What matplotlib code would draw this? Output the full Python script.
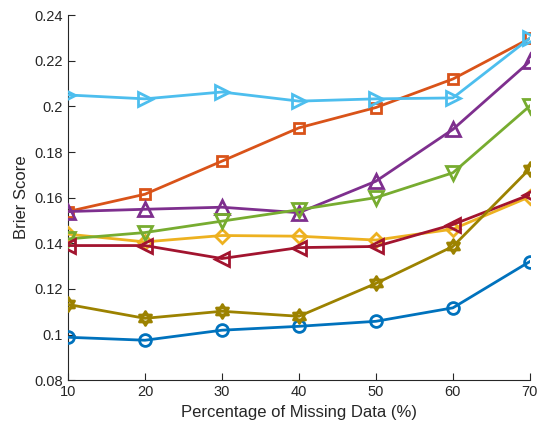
import numpy as np
import matplotlib
matplotlib.use("Agg")
import matplotlib.pyplot as plt
from matplotlib.path import Path

plt.rcParams['font.family'] = ['Liberation Sans', 'DejaVu Sans']

missing_pct = [10, 20, 30, 40, 50, 60, 70]
blue_circle = [0.0988, 0.0975, 0.1019, 0.1036, 0.1058, 0.1117, 0.1320]
orange_square = [0.1539, 0.1615, 0.1760, 0.1906, 0.1995, 0.2120, 0.2298]
yellow_diamond = [0.1440, 0.1406, 0.1434, 0.1431, 0.1414, 0.1462, 0.1604]
purple_up = [0.1539, 0.1549, 0.1558, 0.1534, 0.1672, 0.1899, 0.2197]
green_down = [0.1419, 0.1447, 0.1497, 0.1547, 0.1600, 0.1709, 0.2002]
cyan_right = [0.2050, 0.2033, 0.2063, 0.2023, 0.2033, 0.2037, 0.2299]
red_left = [0.1390, 0.1390, 0.1333, 0.1381, 0.1386, 0.1482, 0.1613]
olive_hex = [0.1132, 0.1071, 0.1102, 0.1080, 0.1224, 0.1386, 0.1727]

x_ticks = [10, 20, 30, 40, 50, 60, 70]
y_ticks = [0.08, 0.1, 0.12, 0.14, 0.16, 0.18, 0.2, 0.22, 0.24]
y_tick_labels = ['0.08', '0.1', '0.12', '0.14', '0.16', '0.18', '0.2', '0.22', '0.24']

# hexagram marker (two overlapping triangles)
ang_up = np.deg2rad(np.array([90, 210, 330, 90]))
ang_dn = np.deg2rad(np.array([270, 30, 150, 270]))
verts = list(zip(np.cos(ang_up), np.sin(ang_up))) + list(zip(np.cos(ang_dn), np.sin(ang_dn)))
codes = [Path.MOVETO, Path.LINETO, Path.LINETO, Path.CLOSEPOLY] * 2
hexagram = Path(verts, codes)

series = [
    (blue_circle, '#0072BD', 'o', 8.5),
    (orange_square, '#D95319', 's', 7),
    (yellow_diamond, '#EDB120', 'D', 7.5),
    (purple_up, '#7E2F8E', '^', 10.5),
    (green_down, '#77AC30', 'v', 10.5),
    (cyan_right, '#4DBEEE', '>', 10.5),
    (red_left, '#A2142F', '<', 10.5),
    (olive_hex, '#9C8200', hexagram, 10),
]

fig = plt.figure(figsize=(5.44, 4.32), dpi=100)
ax = fig.add_axes([0.125, 0.12, 0.849, 0.845])

for vals, col, mk, ms in series:
    ax.plot(missing_pct, vals, color=col, lw=2, marker=mk, ms=ms,
            mfc='none', mec=col, mew=2)

ax.set_xlim(10, 70)
ax.set_ylim(0.08, 0.24)
ax.set_xticks(x_ticks)
ax.set_yticks(y_ticks)
ax.set_yticklabels(y_tick_labels)
ax.spines['top'].set_visible(False)
ax.spines['right'].set_visible(False)
for s in ('left', 'bottom'):
    ax.spines[s].set_color('#262626')
    ax.spines[s].set_linewidth(0.8)
ax.tick_params(direction='in', length=5, width=0.8, colors='#262626',
               labelsize=10.5, labelcolor='#262626')
ax.set_xlabel('Percentage of Missing Data (%)', fontsize=12, color='#262626')
ax.set_ylabel('Brier Score', fontsize=12, color='#262626')
for sp in ax.spines.values():
    sp.set_zorder(0)

fig.savefig('out.png', dpi=100)
